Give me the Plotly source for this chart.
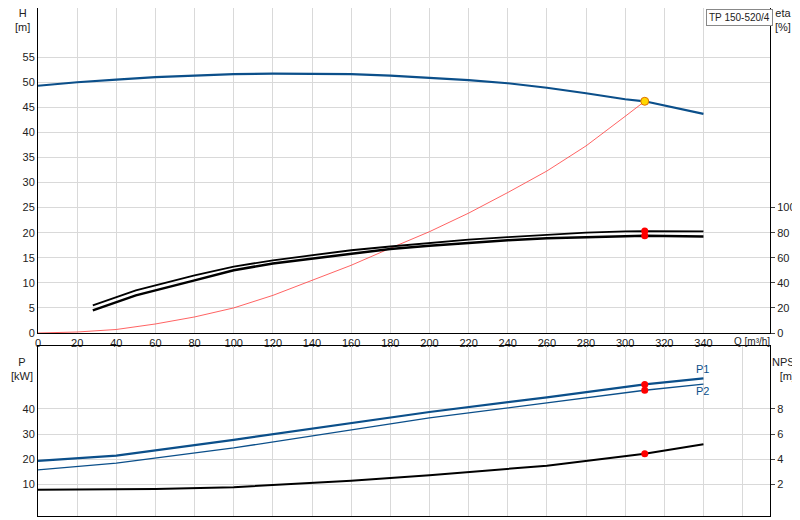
import plotly.graph_objects as go

# head curve H [m] vs Q [m3/h]
q_h = [0, 20, 40, 60, 80, 100, 120, 140, 160, 180, 200, 220, 240, 260, 280, 300, 310, 320, 340]
h = [49.3, 50.0, 50.5, 51.0, 51.3, 51.6, 51.7, 51.7, 51.6, 51.3, 50.9, 50.4, 49.8, 48.9, 47.8, 46.6, 46.2, 45.4, 43.7]

# system curve (red)
q_sys = [0, 20, 40, 60, 80, 100, 120, 140, 160, 180, 200, 220, 240, 260, 280, 300, 310]
h_sys = [0, 0.2, 0.7, 1.8, 3.2, 5.0, 7.5, 10.5, 13.5, 16.9, 20.2, 23.9, 28.0, 32.3, 37.3, 43.2, 46.2]

# efficiency curves [%]
q_eta = [28, 50, 80, 100, 120, 140, 160, 180, 200, 220, 240, 260, 280, 300, 310, 340]
eta_1 = [22, 34, 46, 53, 58, 62, 66, 69, 72, 74.5, 76.5, 78.5, 80, 81, 81.3, 81]
eta_2 = [18, 30, 42, 50, 55.5, 59.5, 63.5, 67, 69.5, 72, 74, 75.5, 76.5, 77.3, 77.5, 77]

# power curves [kW]
q_p = [0, 40, 100, 160, 200, 260, 310, 340]
p1 = [19.4, 21.5, 27.7, 34.3, 38.7, 44.5, 49.6, 52.0]
p2 = [15.8, 18.5, 24.5, 31.5, 36.4, 42.3, 47.3, 49.7]

# NPSH [m]
q_npsh = [0, 30, 60, 100, 160, 200, 260, 310, 340]
npsh = [1.6, 1.6, 1.65, 1.8, 2.3, 2.75, 3.5, 4.45, 5.2]

duty_q = 310
blue = '#0b4f8a'
grid = '#d9d9d9'
font = dict(family='Arial, Liberation Sans', size=11, color='#222')

fig = go.Figure()
fig.add_trace(go.Scatter(x=q_h, y=h, mode='lines', line=dict(color=blue, width=2.2)))
fig.add_trace(go.Scatter(x=q_sys, y=h_sys, mode='lines', line=dict(color='#ff3b3b', width=0.8)))
fig.add_trace(go.Scatter(x=q_eta, y=eta_1, yaxis='y2', mode='lines', line=dict(color='black', width=1.8)))
fig.add_trace(go.Scatter(x=q_eta, y=eta_2, yaxis='y2', mode='lines', line=dict(color='black', width=2.5)))
fig.add_trace(go.Scatter(x=[duty_q, duty_q], y=[eta_1[-2], eta_2[-2]], yaxis='y2', mode='markers',
                         marker=dict(color='red', size=7)))
fig.add_trace(go.Scatter(x=[duty_q], y=[h[16]], mode='markers',
                         marker=dict(color='#ffd700', size=8, line=dict(color='#e07000', width=1))))

fig.add_trace(go.Scatter(x=q_p, y=p1, xaxis='x2', yaxis='y3', mode='lines', line=dict(color=blue, width=2.2)))
fig.add_trace(go.Scatter(x=q_p, y=p2, xaxis='x2', yaxis='y3', mode='lines', line=dict(color=blue, width=1.3)))
fig.add_trace(go.Scatter(x=q_npsh, y=npsh, xaxis='x2', yaxis='y4', mode='lines', line=dict(color='black', width=2)))
fig.add_trace(go.Scatter(x=[duty_q, duty_q], y=[p1[6], p2[6]], xaxis='x2', yaxis='y3', mode='markers',
                         marker=dict(color='red', size=7)))
fig.add_trace(go.Scatter(x=[duty_q], y=[npsh[7]], xaxis='x2', yaxis='y4', mode='markers',
                         marker=dict(color='red', size=7)))

xdom = [30 / 800, 762 / 800]
xcommon = dict(range=[0, 374], dtick=20, gridcolor=grid, showline=True, linecolor='black',
               zeroline=False, tickfont=font, ticks='', automargin=False)
ycommon = dict(gridcolor=grid, showline=True, linecolor='black', zeroline=False, tickfont=font,
               automargin=False)
yright = dict(showgrid=False, showline=True, linecolor='black', ticks='outside', ticklen=4,
              zeroline=False, tickfont=font, automargin=False, side='right')
fig.update_layout(
    width=800, height=520, showlegend=False, plot_bgcolor='white', paper_bgcolor='white',
    margin=dict(l=0, r=0, t=0, b=0, autoexpand=False), font=font,
    xaxis=dict(xcommon, domain=xdom, anchor='y', tickvals=list(range(0, 341, 20))),
    yaxis=dict(ycommon, domain=[195 / 520, 1], range=[0, 64.8], tickvals=list(range(0, 56, 5))),
    yaxis2=dict(yright, overlaying='y', anchor='x', range=[0, 259.2], tickvals=list(range(0, 101, 20))),
    xaxis2=dict(xcommon, domain=xdom, anchor='y3', showticklabels=False, mirror=True),
    yaxis3=dict(ycommon, domain=[12 / 520, 182 / 520], range=[-2.4, 64.8], tickvals=[10, 20, 30, 40]),
    yaxis4=dict(yright, overlaying='y3', anchor='x2', range=[-0.48, 12.96], tickvals=[2, 4, 6, 8]),
)

labels = [
    (14, 12, 'H<br>[m]', font, None),
    (775, 12, 'eta<br>[%]', font, None),
    (744, 333, 'Q [m³/h]', dict(font, size=10), None),
    (14, 361, 'P<br>[kW]', font, None),
    (779, 361, 'NPSH<br>[m]', font, None),
    (694, 361, 'P1', dict(font, color=blue), None),
    (694, 383, 'P2', dict(font, color=blue), None),
    (731, 9, 'TP 150-520/4', dict(font, size=10), '#888'),
]
for x, y, t, f, border in labels:
    fig.add_annotation(x=x / 800, y=1 - y / 520, xref='paper', yref='paper', text=t, showarrow=False,
                       font=f, xanchor='center', yanchor='middle', bgcolor='white' if border else None,
                       bordercolor=border, borderwidth=1 if border else 0, borderpad=2)

fig.write_html('out.html')
